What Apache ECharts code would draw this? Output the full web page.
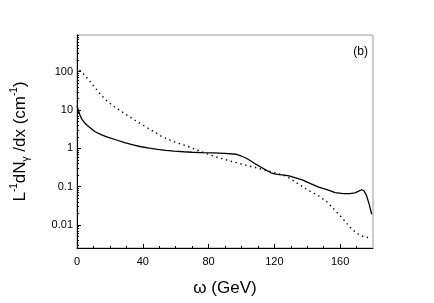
<!DOCTYPE html>
<html>
<head>
<meta charset="utf-8">
<script src="https://cdn.jsdelivr.net/npm/echarts@6/dist/echarts.min.js"></script>
<style>html,body{margin:0;padding:0;background:#fff}#c{width:434px;height:303px}</style>
</head>
<body>
<div id="c"></div>
<script>
// Solid curve
const solidOmega = [0, 0.8, 1.8, 3, 4.9, 7, 11, 15, 19, 24, 29, 34, 39, 44, 49, 54, 59, 65, 70, 76, 83, 90, 97, 100, 103, 106, 109, 112, 115, 118, 120, 123, 126, 129, 133, 137, 142, 147, 152, 157, 162, 166, 169, 171, 173, 174.5, 176, 177.8, 179.2];
const solidValues = [13, 10, 7.4, 5.7, 4.5, 3.7, 2.71, 2.25, 1.94, 1.65, 1.40, 1.24, 1.10, 1.01, 0.94, 0.89, 0.85, 0.815, 0.79, 0.77, 0.76, 0.74, 0.70, 0.63, 0.55, 0.46, 0.38, 0.32, 0.27, 0.23, 0.215, 0.205, 0.2, 0.19, 0.17, 0.15, 0.12, 0.097, 0.083, 0.07, 0.066, 0.066, 0.069, 0.075, 0.083, 0.078, 0.06, 0.033, 0.019];
// Dotted curve
const dottedOmega = [1.5, 2.8, 5, 7, 10, 13, 16, 19, 23, 27, 31, 35, 39, 43, 47, 51, 55, 59, 63, 68, 73, 78, 83, 88, 93, 98, 103, 108, 113, 118, 122, 127, 132, 137, 142, 147, 152, 157, 162, 167, 171, 174, 177];
const dottedValues = [110, 100, 78, 62, 43, 30, 21.5, 16, 12, 9.2, 7.1, 5.5, 4.3, 3.4, 2.7, 2.1, 1.75, 1.49, 1.3, 1.1, 0.9, 0.75, 0.63, 0.54, 0.47, 0.41, 0.36, 0.32, 0.28, 0.245, 0.22, 0.19, 0.14, 0.1, 0.075, 0.057, 0.04, 0.024, 0.014, 0.0078, 0.0058, 0.005, 0.0047];
// Axis ticks / labels
const xTickValues = [0, 40, 80, 120, 160];
const yDecades = [0.01, 0.1, 1, 10, 100];
const yMinorMultipliers = [2, 3, 4, 5, 6, 7, 8, 9];
const panelLabel = '(b)';
const xTitle = 'ω (GeV)';

const yMinor = [];
[0.001, 0.01, 0.1, 1, 10, 100].forEach(d => yMinorMultipliers.forEach(m => {
  const v = +(d * m).toPrecision(3);
  if (v >= 0.0025 && v <= 910) yMinor.push(v);
}));

const pairs = (xs, ys) => xs.map((x, i) => [x, ys[i]]);
const font = 'Liberation Sans, Arial, sans-serif';

const chart = echarts.init(document.getElementById('c'), null, {renderer: 'canvas'});
chart.setOption({
  animation: false,
  backgroundColor: '#fff',
  grid: {left: 77, right: 61, top: 35, bottom: 55, show: true, borderColor: '#999', borderWidth: 1, backgroundColor: 'transparent'},
  graphic: [{
    type: 'text', right: 66, top: 46,
    style: {text: panelLabel, font: '12px ' + font, fill: '#000'}
  }],
  xAxis: {
    type: 'value', min: 0, max: 180, interval: 40,
    name: xTitle, nameLocation: 'middle', nameGap: 32,
    nameTextStyle: {fontSize: 17, fontFamily: font, color: '#000'},
    axisLine: {show: true, lineStyle: {color: '#000', width: 1}},
    axisTick: {show: true, inside: true, length: 4, lineStyle: {color: '#000'}, customValues: xTickValues},
    minorTick: {show: true, splitNumber: 4, length: 2, lineStyle: {color: '#000'}},
    axisLabel: {fontSize: 11, fontFamily: font, color: '#000', margin: 8, customValues: xTickValues},
    splitLine: {show: false}
  },
  yAxis: [{
    type: 'log', min: 0.0025, max: 910, logBase: 10,
    name: '{a|L}{s|-1}{a|dN}{g|γ}{a| /dx (cm}{s|-1}{a|)}',
    nameLocation: 'middle', nameGap: 46, nameRotate: 90,
    nameTextStyle: {
      fontFamily: font, color: '#000',
      rich: {
        a: {fontSize: 17, fontFamily: font, color: '#000', lineHeight: 22, verticalAlign: 'middle'},
        s: {fontSize: 10, fontFamily: font, color: '#000', lineHeight: 10, verticalAlign: 'top'},
        g: {fontSize: 10, fontFamily: font, color: '#000', lineHeight: 10, verticalAlign: 'bottom'}
      }
    },
    axisLine: {show: true, lineStyle: {color: '#000', width: 1}},
    axisTick: {show: true, inside: true, length: 4, lineStyle: {color: '#000'}, customValues: yDecades},
    axisLabel: {fontSize: 11, fontFamily: font, color: '#000', margin: 4, customValues: yDecades,
      formatter: v => String(+v.toPrecision(3))},
    splitLine: {show: false}
  }, {
    type: 'log', min: 0.0025, max: 910, logBase: 10, position: 'left',
    axisLine: {show: false},
    axisTick: {show: true, inside: true, length: 2, lineStyle: {color: '#000'}, customValues: yMinor},
    axisLabel: {show: false},
    splitLine: {show: false}
  }],
  series: [{
    type: 'line', data: pairs(solidOmega, solidValues), showSymbol: false, symbol: 'none',
    lineStyle: {color: '#000', width: 1.3}, z: 3
  }, {
    type: 'line', data: pairs(dottedOmega, dottedValues), showSymbol: false, symbol: 'none',
    lineStyle: {color: '#000', width: 1.4, type: [1.4, 3.6]}, z: 3
  }]
});
</script>
</body>
</html>
